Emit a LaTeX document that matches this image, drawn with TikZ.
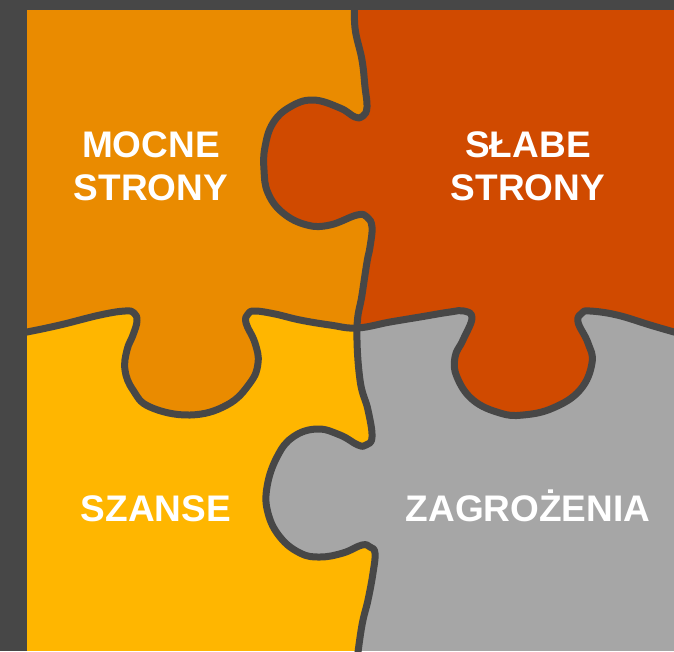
\documentclass[tikz,border=0pt]{standalone}
\usepackage{fontspec}
\setmainfont{Liberation Sans}
\usepackage{tikz}
\definecolor{frameGray}{RGB}{71,71,71}
\definecolor{strongOrange}{RGB}{234,139,0}
\definecolor{weakRed}{RGB}{208,74,0}
\definecolor{chanceYellow}{RGB}{255,182,0}
\definecolor{threatGray}{RGB}{166,166,166}
% cutting lines of the puzzle (pixel coordinates, y downwards)
\newcommand{\vcut}{plot[smooth, tension=0.7] coordinates {
  (355,0) (355,28) (362,60) (365,87) (367,107) (363,116) (355,117)
  (340,108) (313,100) (290,107) (273,123) (265,147) (264,170) (268,193)
  (283,213) (307,225) (330,225) (357,215) (367,217) (372,227) (370,247)
  (367,262) (362,295) (357,328) (360,380) (368,410) (372,437) (366,445)
  (358,445) (340,435) (317,429) (293,437) (277,457) (267,487) (268,513)
  (280,537) (300,553) (320,557) (343,553) (362,545) (370,547) (375,553)
  (373,573) (368,600) (362,625) (357,660)}}
\newcommand{\hcut}{plot[smooth, tension=0.7] coordinates {
  (15,334) (27,332) (60,325) (100,315) (125,311) (134,313) (137,321)
  (133,335) (127,350) (125,370) (133,390) (150,407) (190,415) (227,405)
  (250,383) (258,363) (255,343) (246,323) (248,314) (255,311) (275,314)
  (300,320) (330,325) (357,328) (390,322) (420,317) (450,312) (464,311)
  (472,318) (463,340) (455,357) (457,377) (473,400) (500,413) (523,415)
  (553,408) (580,390) (592,363) (588,343) (578,322) (582,313) (590,311)
  (617,315) (650,325) (674,332) (685,335)}}
\begin{document}
\begin{tikzpicture}[x=1pt, y=-1pt,
    cut/.style={draw=frameGray, line width=7pt, line join=round, line cap=round},
    label/.style={text=white, font=\bfseries\fontsize{37}{43}\selectfont, align=center, inner sep=0pt}]
  \useasboundingbox (0,0) rectangle (674,651);
  % background and pieces
  \fill[frameGray] (0,0) rectangle (674,651);
  \fill[threatGray] (27,10) rectangle (674,651);
  \begin{scope}
    \clip (27,10) rectangle (674,651);
    \begin{scope}
      \clip \vcut -- (10,660) -- (10,0) -- cycle;
      \fill[chanceYellow] (0,0) rectangle (674,651);
      \clip \hcut -- (685,0) -- (10,0) -- cycle;
      \fill[strongOrange] (0,0) rectangle (674,651);
    \end{scope}
    \begin{scope}
      \clip \vcut -- (685,660) -- (685,0) -- cycle;
      \clip \hcut -- (685,0) -- (10,0) -- cycle;
      \fill[weakRed] (0,0) rectangle (674,651);
    \end{scope}
  \end{scope}
  % outlines
  \begin{scope}
    \clip (27,10) rectangle (674,651);
    \draw[cut] \vcut;
    \draw[cut] \hcut;
  \end{scope}
  % texts
  \node[label] (mocne) at (151,166) {MOCNE\\STRONY};
  \node[label] (slabe) at (528,166) {SŁABE\\STRONY};
  \node[label, anchor=base] (szanse) at (156,521) {SZANSE};
  \node[label, anchor=base] (zagrozenia) at (528,521) {ZAGROŻENIA};
\end{tikzpicture}
\end{document}
